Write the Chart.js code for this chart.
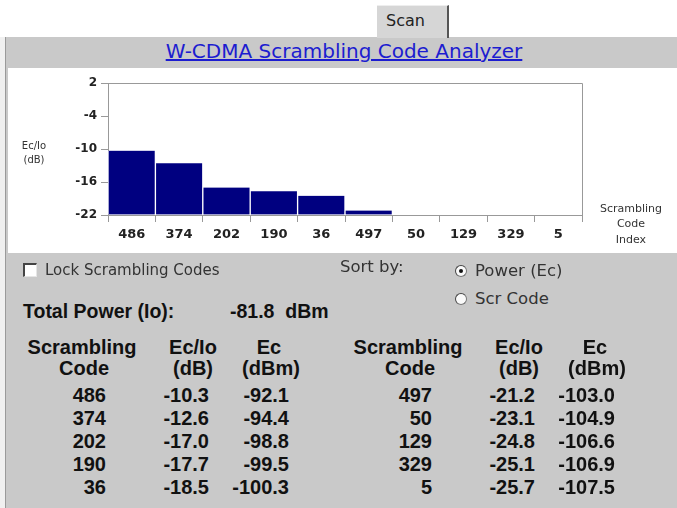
<!DOCTYPE html>
<html>
<head>
<meta charset="utf-8">
<script src="https://cdn.jsdelivr.net/npm/chart.js@4.4.1/dist/chart.umd.min.js"></script>
<style>
  html, body { margin: 0; padding: 0; background: #fff; }
  #page { position: relative; width: 677px; height: 508px; overflow: hidden; background: #f0f0f0; }
  #panel { position: absolute; left: 5px; top: 37px; width: 672px; height: 471px; background: #c9c9c9; border-left: 1px solid #9a9a9a; }
  #top { position: absolute; left: 0; top: 0; width: 677px; height: 37px; background: #fff; }
  #tab { position: absolute; left: 377px; top: 5px; width: 70px; height: 32px; background: #d6d6d6; border-right: 2px solid #555; border-top: 1px solid #eee; }
  #chartBox { position: absolute; left: 8px; top: 68px; width: 669px; height: 185px; background: #fff; }
  .t { position: absolute; white-space: pre; line-height: 1; font-family: 'DejaVu Sans', sans-serif; color: #2a2a2a; }
  .tbl { font-family: 'Liberation Sans', Arial, sans-serif; font-weight: bold; font-size: 20px; color: #111; }
  .box { position: absolute; background: #fff; border-top: 2px solid #444; border-left: 2px solid #444; border-right: 1px solid #e6e6e6; border-bottom: 1px solid #e6e6e6; }
  .radio { position: absolute; width: 10px; height: 10px; border-radius: 50%; background: #fafafa; border: 1px solid #777; border-top-color: #444; border-left-color: #444; }
  .dot { position: absolute; left: 3px; top: 3px; width: 4px; height: 4px; border-radius: 50%; background: #111; }
</style>
</head>
<body>
<div id="page">
  <div id="top"></div>
  <div id="panel"></div>
  <div id="tab"></div>
  <div id="chartBox"><canvas id="codeChart" width="669" height="185"></canvas></div>
</div>
<script>
// scrambling codes sorted by power, with their Ec/Io (dB) and Ec (dBm)
const codes = ['486', '374', '202', '190', '36', '497', '50', '129', '329', '5'];
const ecIo = [-10.3, -12.6, -17.0, -17.7, -18.5, -21.2, -23.1, -24.8, -25.1, -25.7];
const ecDbm = [-92.1, -94.4, -98.8, -99.5, -100.3, -103.0, -104.9, -106.6, -106.9, -107.5];
const totalPower = -81.8;
const yMin = -22, yMax = 2, yStep = 6;

const page = document.getElementById('page');
function put(text, x, y, align, cls, style) {
    const d = document.createElement('div');
    d.className = 't ' + (cls || '');
    d.textContent = text;
    d.style.left = x + 'px';
    d.style.top = y + 'px';
    const tx = align === 'right' ? '-100%' : align === 'center' ? '-50%' : '0';
    d.style.transform = 'translate(' + tx + ',-50%)';
    if (style) Object.assign(d.style, style);
    page.appendChild(d);
    return d;
}

// header
put('Scan', 386, 21, 'left', '', { fontSize: '16px', color: '#222' });
put('W-CDMA Scrambling Code Analyzer', 344, 51, 'center', '', { fontSize: '20px', color: '#1c1cd0', textDecoration: 'underline' });

// axis titles
put('Ec/Io', 34, 146, 'center', '', { fontSize: '10px', color: '#333' });
put('(dB)', 34, 160, 'center', '', { fontSize: '10px', color: '#333' });
put('Scrambling', 631, 208, 'center', '', { fontSize: '11px', color: '#333' });
put('Code', 631, 223, 'center', '', { fontSize: '11px', color: '#333' });
put('Index', 631, 239, 'center', '', { fontSize: '11px', color: '#333' });

// controls
const cb = document.createElement('div');
cb.className = 'box';
Object.assign(cb.style, { left: '23px', top: '263px', width: '11px', height: '11px' });
page.appendChild(cb);
put('Lock Scrambling Codes', 45, 270, 'left', '', { fontSize: '15px', color: '#333' });
put('Sort by:', 340, 267, 'left', '', { fontSize: '16.5px', color: '#333' });
[[271, true, 'Power (Ec)'], [299, false, 'Scr Code']].forEach(function (r) {
    const rd = document.createElement('div');
    rd.className = 'radio';
    Object.assign(rd.style, { left: '455px', top: (r[0] - 6) + 'px' });
    if (r[1]) { const dot = document.createElement('div'); dot.className = 'dot'; rd.appendChild(dot); }
    page.appendChild(rd);
    put(r[2], 475, r[0], 'left', '', { fontSize: '16.5px', color: '#333' });
});

put('Total Power (Io):', 23, 312, 'left', 'tbl', { fontSize: '19.5px' });
put(totalPower.toFixed(1) + '  dBm', 230, 312, 'left', 'tbl', { fontSize: '19.5px' });

// tables: two halves of five rows
const rowY = [395, 418, 441, 464, 487];
[0, 326].forEach(function (off, half) {
    put('Scrambling', 82 + off, 347, 'center', 'tbl');
    put('Code', 84 + off, 368, 'center', 'tbl');
    put('Ec/Io', 193 + off, 347, 'center', 'tbl');
    put('(dB)', 193 + off, 368, 'center', 'tbl');
    put('Ec', 269 + off, 347, 'center', 'tbl');
    put('(dBm)', 271 + off, 368, 'center', 'tbl');
    for (let i = 0; i < 5; i++) {
        const k = half * 5 + i;
        put(codes[k], 106 + off, rowY[i], 'right', 'tbl');
        put(ecIo[k].toFixed(1), 209 + off, rowY[i], 'right', 'tbl');
        put(ecDbm[k].toFixed(1), 289 + off, rowY[i], 'right', 'tbl');
    }
});

const framePlugin = {
    id: 'frame',
    afterDraw(chart) {
        const a = chart.chartArea, c = chart.ctx;
        c.save();
        c.strokeStyle = '#999';
        c.lineWidth = 1;
        c.beginPath();
        c.moveTo(a.left, a.top + 0.5);
        c.lineTo(a.right + 0.5, a.top + 0.5);
        c.lineTo(a.right + 0.5, a.bottom);
        c.stroke();
        c.restore();
    }
};

new Chart(document.getElementById('codeChart'), {
    type: 'bar',
    data: {
        labels: codes,
        datasets: [{
            label: 'Ec/Io',
            data: ecIo,
            base: yMin,
            clip: 0,
            backgroundColor: '#000080',
            borderColor: '#ffffff',
            borderWidth: { left: 1, right: 1, top: 0, bottom: 0 },
            borderSkipped: false,
            categoryPercentage: 1,
            barPercentage: 1,
        }]
    },
    options: {
        responsive: false,
        animation: false,
        layout: { padding: { top: 15, right: 95, left: 0, bottom: 0 } },
        plugins: { legend: { display: false }, tooltip: { enabled: false } },
        scales: {
            x: {
                grid: { offset: true, drawOnChartArea: false, tickLength: 7, color: '#999' },
                border: { display: true, color: '#999' },
                ticks: { color: '#222', padding: 5, font: { family: 'DejaVu Sans', size: 13, weight: 'bold' }, maxRotation: 0 },
                afterFit(scale) { scale.height = 38; }
            },
            y: {
                min: yMin,
                max: yMax,
                grid: { drawOnChartArea: false, tickLength: 7, color: '#999' },
                border: { display: true, color: '#999' },
                ticks: { stepSize: yStep, color: '#222', padding: 4, font: { family: 'DejaVu Sans', size: 12, weight: 'bold' } },
                afterFit(scale) { scale.width = 100; }
            }
        }
    },
    plugins: [framePlugin]
});
</script>
</body>
</html>
